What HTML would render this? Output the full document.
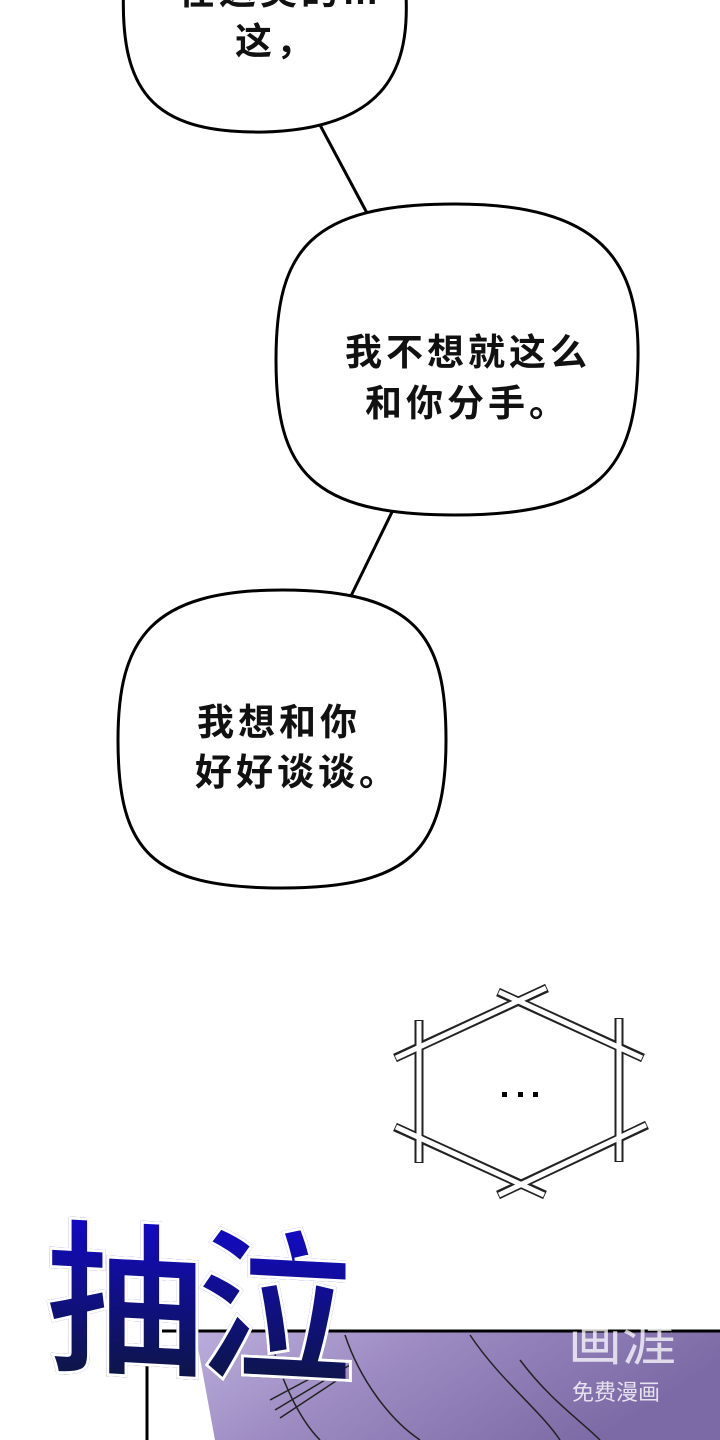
<!DOCTYPE html>
<html><head><meta charset="utf-8"><style>
html,body{margin:0;padding:0;background:#fff}
body{width:720px;height:1440px;position:relative;overflow:hidden;font-family:"Liberation Sans","Noto Sans CJK SC",sans-serif}
.t{position:absolute;font-size:37px;color:#111;line-height:51px;font-weight:bold;letter-spacing:4px}
</style></head><body>
<svg width="720" height="1440" style="position:absolute;left:0;top:0">
<defs><linearGradient id="pg" x1="0" y1="0" x2="1" y2="0.3"><stop offset="0" stop-color="#c0b4e0"/><stop offset="0.5" stop-color="#9a88c0"/><stop offset="1" stop-color="#7c6aa6"/></linearGradient></defs>
<g stroke="#000" stroke-width="3" fill="#fff">
<line x1="320" y1="125" x2="367" y2="213"/>
<line x1="393" y1="510" x2="350" y2="598"/>
<path d="M124,-20 L405,-20 C412,60 395,128 265,132 C150,134 118,90 124,-20 Z"/>
<path d="M455,204 C600,204 640,260 638,360 C636,470 600,515 455,515 C310,515 276,470 276,360 C276,250 310,204 455,204 Z"/>
<path d="M282,590 C420,590 446,640 446,740 C446,850 410,888 282,888 C150,888 118,850 118,740 C118,640 150,590 282,590 Z"/>
</g>
<g stroke-linecap="butt">
<g stroke="#222" stroke-width="9">
<line x1="395" y1="1058" x2="547" y2="988"/><line x1="498" y1="992" x2="643" y2="1058"/>
<line x1="419" y1="1020" x2="419" y2="1163"/><line x1="619" y1="1018" x2="619" y2="1162"/>
<line x1="395" y1="1127" x2="545" y2="1195"/><line x1="498" y1="1195" x2="647" y2="1125"/>
</g>
<g stroke="#fff" stroke-width="5">
<line x1="396" y1="1058" x2="546" y2="988"/><line x1="499" y1="992" x2="642" y2="1058"/>
<line x1="419" y1="1021" x2="419" y2="1162"/><line x1="619" y1="1019" x2="619" y2="1161"/>
<line x1="396" y1="1127" x2="544" y2="1195"/><line x1="499" y1="1195" x2="646" y2="1125"/>
</g></g>
<rect x="502" y="1092" width="5" height="5" fill="#000"/><rect x="518" y="1092" width="5" height="5" fill="#000"/><rect x="533" y="1092" width="5" height="5" fill="#000"/>
<path d="M147,1440 L147,1331 L720,1331 L720,1440 Z" fill="url(#pg)"/>
<path d="M147,1440 L147,1331 L195,1331 L215,1440 Z" fill="#fff"/>
<path d="M147,1440 L147,1331 L720,1331" fill="none" stroke="#000" stroke-width="3"/>
<g stroke="#222" stroke-width="1.5" fill="none">
<path d="M270,1335 C280,1380 300,1420 320,1440"/><path d="M345,1335 C360,1380 390,1420 420,1440"/>
<path d="M470,1335 C500,1380 540,1410 560,1440"/><path d="M520,1360 C550,1400 580,1420 600,1440"/>
<path d="M270,1400 L345,1360"/><path d="M275,1410 L350,1365"/><path d="M280,1418 L345,1375"/>
</g>
</svg>
<div class="t" style="left:178px;top:-34px">在这类的…</div>
<div class="t" style="left:235px;top:16px">这，</div>
<div class="t" style="left:345px;top:327px">我不想就这么</div>
<div class="t" style="left:365px;top:378px">和你分手。</div>
<div class="t" style="left:197px;top:697px">我想和你</div>
<div class="t" style="left:195px;top:747px">好好谈谈。</div>
<div style="position:absolute;left:45px;top:1200px;font-size:165px;font-weight:bold;line-height:200px;letter-spacing:-10px;background:linear-gradient(#1408d0,#0c1830);-webkit-background-clip:text;color:transparent;transform:skewY(3deg) scaleX(0.97);transform-origin:left top;-webkit-text-stroke:3px #fff;">抽泣</div>
<div style="position:absolute;left:568px;top:1312px;font-size:54px;color:rgba(255,255,255,0.75);line-height:60px">画涯</div>
<div style="position:absolute;left:572px;top:1380px;font-size:22px;color:rgba(255,255,255,0.8);line-height:26px">免费漫画</div>
</body></html>
